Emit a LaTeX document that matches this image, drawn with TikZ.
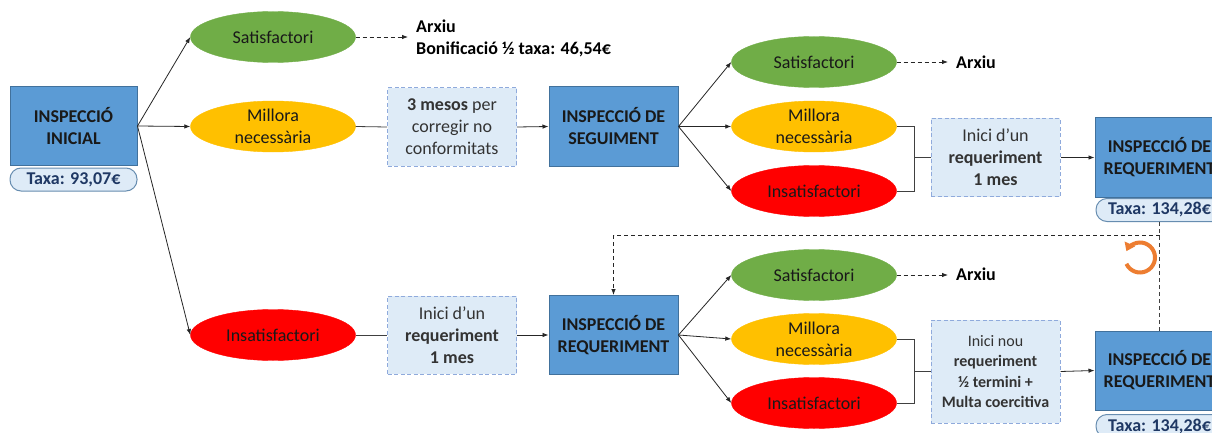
\documentclass[tikz,border=0pt]{standalone}
\usepackage{fontspec}
\setmainfont{Carlito}
\usepackage{tikz}
\usetikzlibrary{positioning,shapes.geometric,arrows.meta}

\definecolor{boxblue}{HTML}{5B9BD5}
\definecolor{boxedge}{HTML}{41719C}
\definecolor{paleblue}{HTML}{DEEBF7}
\definecolor{dashedge}{HTML}{8FAADC}
\definecolor{taxtext}{HTML}{1F3864}
\definecolor{okgreen}{HTML}{70AD47}
\definecolor{warnyellow}{HTML}{FFC000}
\definecolor{badred}{HTML}{FF0000}
\definecolor{looporange}{HTML}{ED7D31}

\begin{document}
\begin{tikzpicture}[x=1pt,y=1pt,
	font=\fontsize{18}{22}\selectfont,
	inspeccio/.style={rectangle,draw=boxedge,fill=boxblue,line width=1pt,minimum width=129pt,minimum height=79pt,inner sep=0pt,align=center,font=\fontsize{18}{22}\selectfont\bfseries,text=black!90},
	taxa/.style={rectangle,rounded corners=11pt,draw=boxedge!80,fill=paleblue,line width=1pt,minimum width=127pt,minimum height=23pt,inner sep=0pt,font=\fontsize{18}{22}\selectfont\bfseries,text=taxtext},
	estat/.style={ellipse,fill=#1,draw=#1,minimum width=165pt,minimum height=51pt,inner xsep=0pt,inner ysep=-8pt,align=center,text=black!90},
	termini/.style={rectangle,draw=dashedge,dash pattern=on 4pt off 2.5pt,line width=1pt,fill=paleblue,minimum width=129pt,minimum height=78pt,inner sep=0pt,align=center,text=black!80},
	arxiu/.style={anchor=west,align=left,font=\fontsize{18}{22}\selectfont\bfseries,inner sep=4pt},
	fletxa/.style={-{Latex[length=6pt,width=4.5pt]},black!85,line width=0.8pt},
	linia/.style={black!75,line width=0.8pt},
	discont/.style={fletxa,dash pattern=on 4pt off 3pt}
	]
	\useasboundingbox (0,0) rectangle (1212,-433);
	\fill[white] (0,0) rectangle (1212,-433);
	\clip (0,0) rectangle (1212,-433);
	% first inspection
	\node[inspeccio,minimum width=127pt,minimum height=78pt] (ini) at (73.5,-126) {INSPECCIÓ\\INICIAL};
	\node[taxa] (tax1) at (73.5,-179.5) {Taxa: 93,07€};
	\node[estat=okgreen] (sat1) at (273,-37) {Satisfactori};
	\node[estat=warnyellow] (mil1) at (273,-126.5) {Millora\\necessària};
	\node[estat=badred] (ins1) at (273,-335) {Insatisfactori};
	\node[arxiu] (arx1) at (412,-38.5) {Arxiu\\Bonificació ½ taxa: 46,54€};
	\node[termini] (mesos) at (452,-127) {\textbf{3 mesos} per\\corregir no\\conformitats};
	\node[termini] (inici1) at (452,-335) {Inici d’un\\\textbf{requeriment}\\\textbf{1 mes}};
	% follow-up
	\node[inspeccio] (seg) at (613.5,-126.5) {INSPECCIÓ DE\\SEGUIMENT};
	\node[estat=okgreen] (sat2) at (814,-62) {Satisfactori};
	\node[estat=warnyellow] (mil2) at (814,-126.5) {Millora\\necessària};
	\node[estat=badred] (ins2) at (814,-191) {Insatisfactori};
	\node[arxiu] (arx2) at (952,-62) {Arxiu};
	\node[termini] (inici2) at (995.5,-157.5) {Inici d’un\\\textbf{requeriment}\\\textbf{1 mes}};
	\node[inspeccio] (req1) at (1159.5,-157.5) {INSPECCIÓ DE\\REQUERIMENT};
	\node[taxa] (tax2) at (1159.5,-210) {Taxa: 134,28€};
	% requirement
	\node[inspeccio] (req2) at (613.5,-335) {INSPECCIÓ DE\\REQUERIMENT};
	\node[estat=okgreen] (sat3) at (814,-275) {Satisfactori};
	\node[estat=warnyellow] (mil3) at (814,-339) {Millora\\necessària};
	\node[estat=badred] (ins3) at (814,-403) {Insatisfactori};
	\node[arxiu] (arx3) at (952,-274) {Arxiu};
	\node[termini,minimum height=103pt,font=\fontsize{16}{20.3}\selectfont] (nou) at (995.5,-371.5) {Inici nou\\\textbf{requeriment}\\\textbf{½ termini +}\\\textbf{Multa coercitiva}};
	\node[inspeccio] (req3) at (1159.5,-370.5) {INSPECCIÓ DE\\REQUERIMENT};
	\node[taxa] (tax3) at (1159.5,-426) {Taxa: 134,28€};
	% connectors
	\foreach \e in {sat1,mil1,ins1} \draw[fletxa] (ini.east) -- (\e.west);
	\foreach \e in {sat2,mil2,ins2} \draw[fletxa] (seg.east) -- (\e.west);
	\foreach \e in {sat3,mil3,ins3} \draw[fletxa] (req2.east) -- (\e.west);
	\draw[discont,shorten >=4pt] (sat1.east) -- (sat1.east -| arx1.west);
	\draw[discont,shorten >=4pt] (sat2.east) -- (arx2.west);
	\draw[discont,shorten >=4pt] (sat3.east) -- (sat3.east -| arx3.west);
	\draw[linia] (mil1.east) -- (mesos.west);
	\draw[fletxa] (mesos.east) -- (seg.west);
	\draw[linia] (ins1.east) -- (inici1.west);
	\draw[fletxa] (inici1.east) -- (req2.west);
	\coordinate (brk1) at (914,-157.5);
	\draw[linia] (mil2.east) -| (brk1) |- (ins2.east);
	\draw[linia] (brk1) -- (inici2.west);
	\draw[fletxa] (inici2.east) -- (req1.west);
	\coordinate (brk2) at (914,-371.5);
	\draw[linia] (mil3.east) -| (brk2) |- (ins3.east);
	\draw[linia] (brk2) -- (nou.west);
	\draw[fletxa] (nou.east) -- (req3.west);
	% back to requirement
	\coordinate (torna) at (1159.5,-235);
	\draw[linia,dash pattern=on 4pt off 3pt] (tax2.south) -- (req3.north);
	\draw[discont] (torna) -| (req2.north);
	\draw[looporange,line width=4pt,-{Triangle[length=8pt,width=11pt]}] ([shift={(205:15)}]1140,-257.5) arc[start angle=205,end angle=515,radius=15];
\end{tikzpicture}
\end{document}
